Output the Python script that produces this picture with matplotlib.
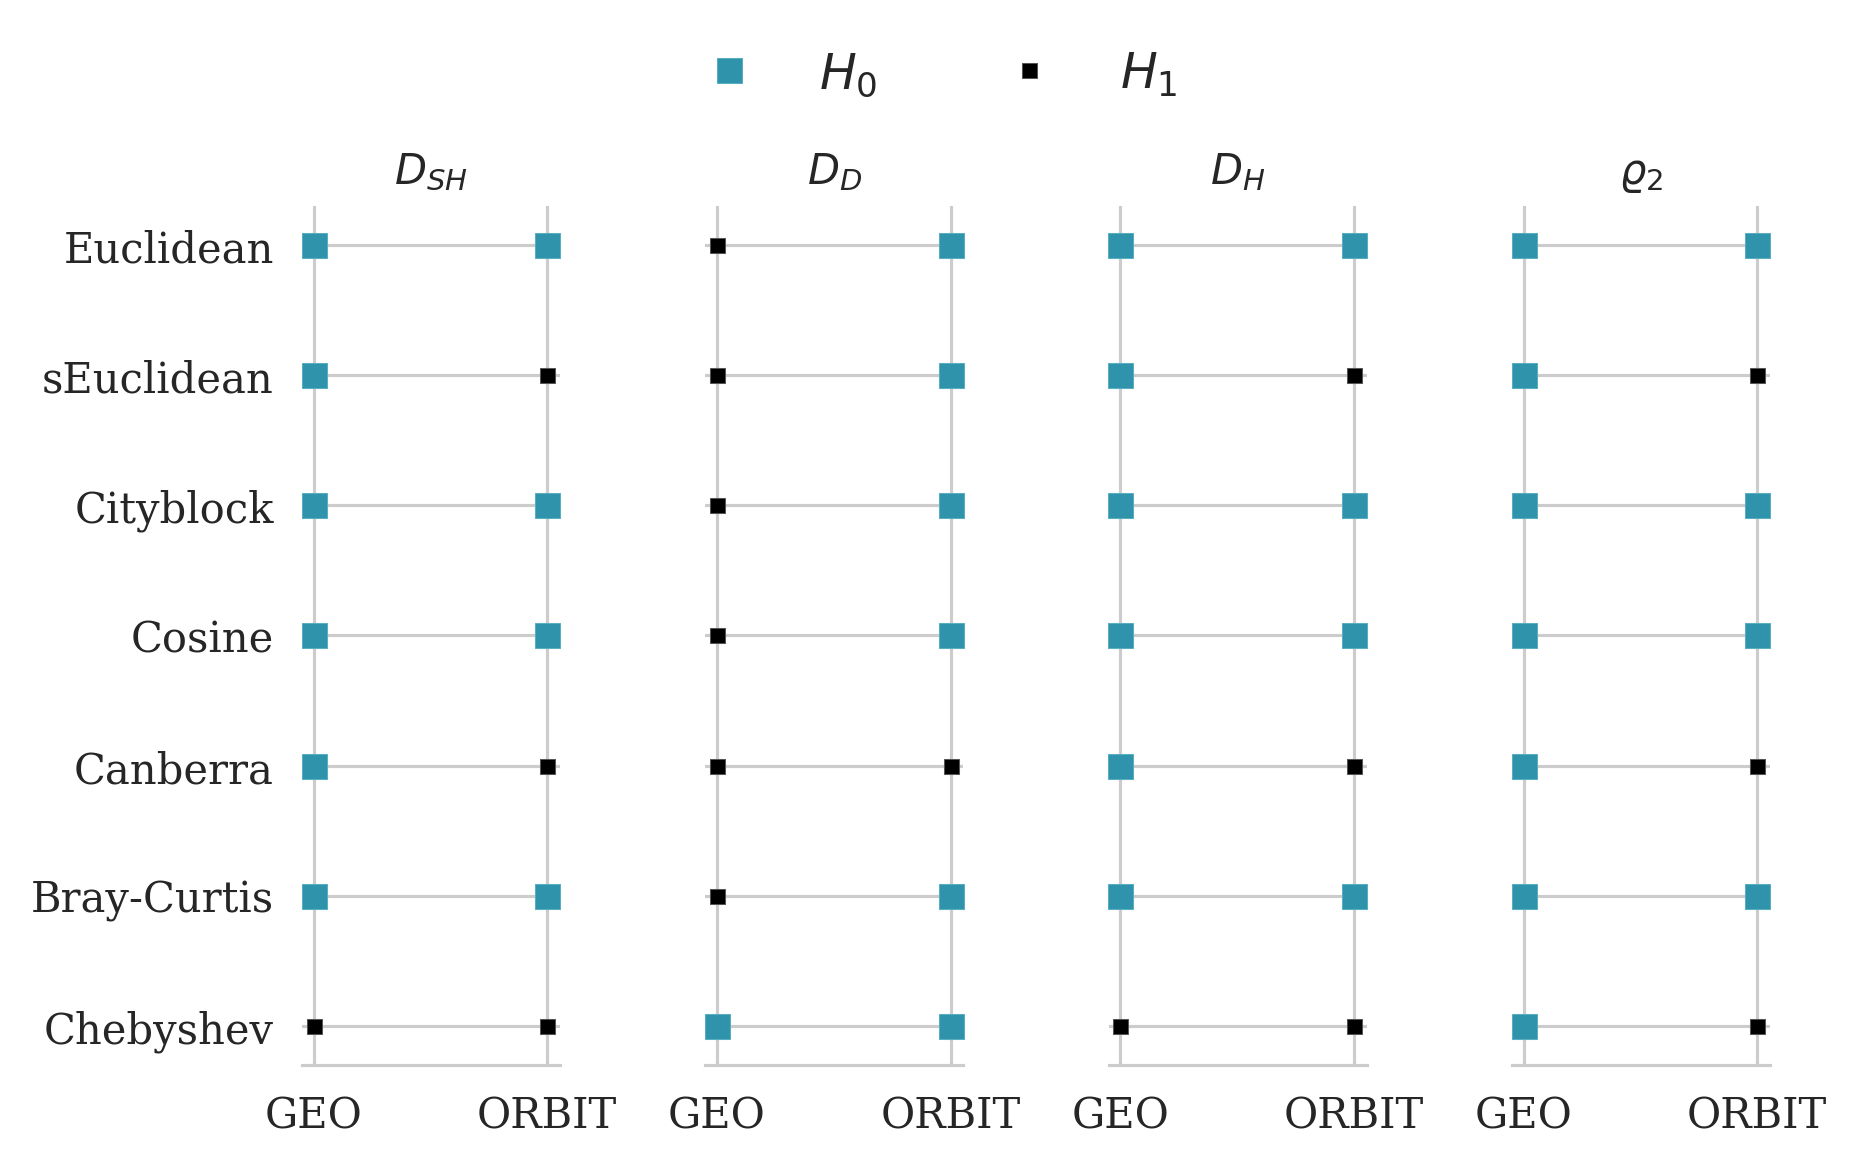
import numpy as np
import matplotlib
matplotlib.use("Agg")
import matplotlib.pyplot as plt
from matplotlib.lines import Line2D

# data: 1 = H0 (accepted), 0 = H1 (rejected)
metrics = ["Euclidean", "sEuclidean", "Cityblock", "Cosine",
           "Canberra", "Bray-Curtis", "Chebyshev"]
groups = ["GEO", "ORBIT"]
titles = [r"$D_{SH}$", r"$D_D$", r"$D_H$", r"$\varrho_2$"]

dsh_geo = [1, 1, 1, 1, 1, 1, 0]
dsh_orbit = [1, 0, 1, 1, 0, 1, 0]
dd_geo = [0, 0, 0, 0, 0, 0, 1]
dd_orbit = [1, 1, 1, 1, 0, 1, 1]
dh_geo = [1, 1, 1, 1, 1, 1, 0]
dh_orbit = [1, 0, 1, 1, 0, 1, 0]
rho_geo = [1, 1, 1, 1, 1, 1, 1]
rho_orbit = [1, 0, 1, 1, 0, 1, 0]

panels = [(dsh_geo, dsh_orbit), (dd_geo, dd_orbit),
          (dh_geo, dh_orbit), (rho_geo, rho_orbit)]

teal = "#2e93ab"
grid_c = "#cccccc"
text_c = "#262626"

fig = plt.figure(figsize=(12.38, 7.773), dpi=150)

left0 = 0.1626
width = 0.139
step = 0.2172
bottom = 0.0858
height = 0.8225 - 0.0858

ys = np.arange(len(metrics))

for k, (geo, orbit) in enumerate(panels):
    ax = fig.add_axes([left0 + k * step, bottom, width, height])
    ax.set_xlim(-0.05, 1.055)
    ax.set_ylim(len(metrics) - 1 + 0.3, -0.3)
    ax.set_axisbelow(True)
    ax.set_xticks([0, 1])
    ax.set_xticklabels(groups, family="DejaVu Serif", fontsize=20, color=text_c)
    ax.set_yticks(ys)
    if k == 0:
        ax.set_yticklabels(metrics, family="DejaVu Serif", fontsize=20, color=text_c)
    else:
        ax.set_yticklabels([])
    ax.tick_params(length=0, pad=13.5)
    ax.tick_params(axis="x", pad=14)
    ax.grid(True, color=grid_c, linewidth=1.5)
    for s in ["top", "right", "left"]:
        ax.spines[s].set_visible(False)
    ax.spines["bottom"].set_color(grid_c)
    ax.spines["bottom"].set_linewidth(1.5)

    for xi, vals in enumerate([geo, orbit]):
        for yi, v in enumerate(vals):
            if v == 1:
                ax.plot(xi, yi, marker="s", ms=12, color=teal,
                        mec="#5aaec2", mew=0.5, clip_on=False, zorder=3)
            else:
                ax.plot(xi, yi, marker="s", ms=7.2, color="black",
                        mec="#555555", mew=0.5, clip_on=False, zorder=3)

    ax.set_title(titles[k], fontsize=20, color=text_c, pad=11)

handles = [
    Line2D([], [], ls="none", marker="s", ms=12, color=teal, mec="#5aaec2", mew=0.5),
    Line2D([], [], ls="none", marker="s", ms=7.2, color="black", mec="#555555", mew=0.5),
]
fig.legend(handles, [r"$H_0$", r"$H_1$"], loc="center", ncol=2,
           bbox_to_anchor=(0.5, 0.936), frameon=False, fontsize=23.5,
           handletextpad=0.85, columnspacing=2.1, labelcolor=text_c)

fig.savefig("out.png", dpi=150)
